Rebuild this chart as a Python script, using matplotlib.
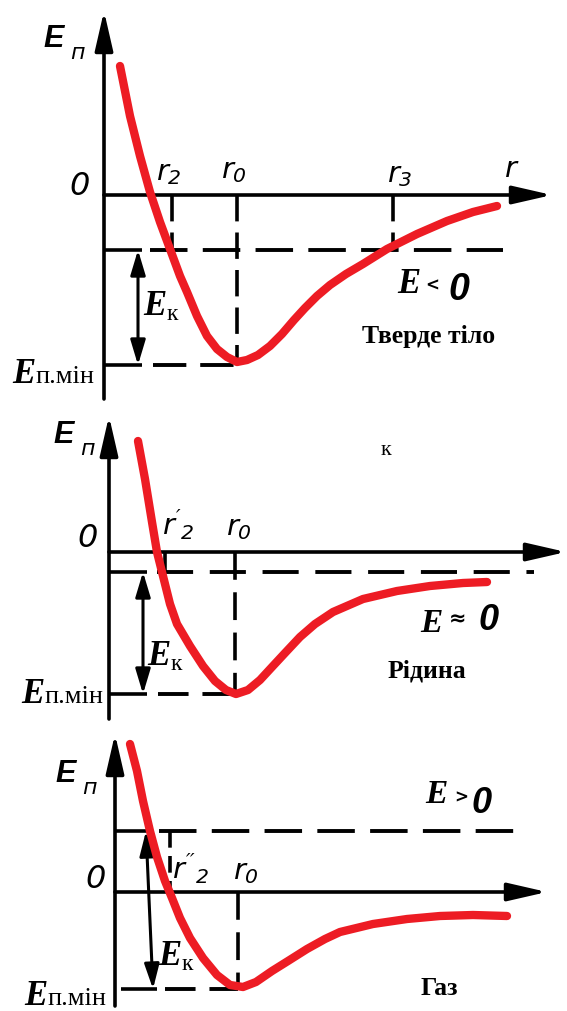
import matplotlib
matplotlib.use("Agg")
import matplotlib.pyplot as plt

plt.rcParams["lines.scale_dashes"] = False
plt.rcParams["mathtext.fontset"] = "custom"
plt.rcParams["mathtext.it"] = "DejaVu Sans:italic"
plt.rcParams["mathtext.rm"] = "DejaVu Sans:italic"

# ---- potential-energy curves (r measured from the E axis, E from the r axis) ----
solid_r = [16, 26, 36, 46, 56, 66, 76, 83, 93, 103, 113, 123, 133, 143, 154, 166,
           178, 190, 201, 213, 226, 242, 259, 283, 313, 343, 369, 393]
solid_E = [129, 79, 39, 3, -27, -54, -81, -97, -121, -141, -154, -162, -167, -165,
           -160, -151, -139, -125, -113, -101, -90, -79, -69, -54, -39, -26, -17, -11]
solid_E_total = -55
solid_E_min = -170
solid_r2, solid_r0, solid_r3 = 68, 133, 289

liquid_r = [29, 36, 43, 48, 53, 61, 68, 81, 94, 106, 117, 127, 139, 151, 163, 176,
            191, 206, 224, 254, 288, 321, 354, 378]
liquid_E = [111, 73, 30, 0, -20, -52, -72, -94, -114, -129, -138, -142, -138, -128,
            -115, -101, -85, -72, -60, -47, -39, -34, -31, -30]
liquid_E_total = -20
liquid_E_min = -142
liquid_r2, liquid_r0 = 56, 126

gas_r = [15, 22, 28, 35, 42, 50, 57, 65, 75, 88, 102, 115, 128, 141, 157, 173, 192,
         210, 225, 258, 292, 325, 358, 392]
gas_E = [148, 121, 91, 61, 35, 11, -6, -26, -46, -66, -83, -93, -95, -90, -79, -69,
         -57, -47, -40, -32, -27, -24, -23, -24]
gas_E_total = 61
gas_E_min = -97
gas_r2, gas_r0 = 55, 123

RED = "#ED1C24"
W, H = 567, 1012

fig = plt.figure(figsize=(W / 100, H / 100), dpi=100)
fig.patch.set_facecolor("white")

SANS_IT = dict(family="DejaVu Sans", style="italic")
E_SANS = dict(family="Liberation Sans", style="italic", weight="bold")
E_SERIF = dict(family="Liberation Serif", style="italic", weight="bold")
SERIF = dict(family="Liberation Serif")
SERIF_B = dict(family="Liberation Serif", weight="bold")


def make_axes(ox, oy, top, bottom):
    ax = fig.add_axes([0, 1 - bottom / H, 1, (bottom - top) / H])
    ax.set_xlim(-ox, W - ox)
    ax.set_ylim(oy - bottom, oy - top)
    ax.axis("off")
    return ax


def axis_arrow(ax, start, end):
    ax.annotate("", xy=end, xytext=start, annotation_clip=False,
                arrowprops=dict(arrowstyle="-|>,head_length=2.4,head_width=0.55",
                                lw=2.6, color="black", shrinkA=0, shrinkB=0,
                                mutation_scale=10))


def double_arrow(ax, top, bottom):
    ax.annotate("", xy=bottom, xytext=top, annotation_clip=False,
                arrowprops=dict(arrowstyle="<|-|>,head_length=1.5,head_width=0.45",
                                lw=2.2, color="black", shrinkA=0, shrinkB=0,
                                mutation_scale=10))


def hdash(ax, r0, r1, e, dashes=(27, 11)):
    ax.plot([r0, r1], [e, e], color="black", lw=2.8, dashes=dashes,
            dash_capstyle="butt", clip_on=False)


def vdash(ax, r, e0, e1, dashes=(19, 8)):
    ax.plot([r, r], [e0, e1], color="black", lw=2.6, dashes=dashes,
            dash_capstyle="butt", clip_on=False)


def solid(ax, rs, es, lw=2.6):
    ax.plot(rs, es, color="black", lw=lw, solid_capstyle="butt", clip_on=False)


def curve(ax, r, e):
    ax.plot(r, e, color=RED, lw=6, solid_capstyle="round", solid_joinstyle="round",
            zorder=5, clip_on=False)


def txt(ax, r, e, s, size, font, ha="center", va="baseline"):
    ax.text(r, e, s, fontsize=size, ha=ha, va=va, zorder=6, **font)


def r_label(ax, r, e, math):
    ax.text(r, e, math, fontsize=21, ha="left", va="baseline", zorder=6)


def energy_labels(ax, ep, ek, emin):
    # E_п near the vertical axis
    txt(ax, ep[0], ep[1], "E", 22, E_SANS)
    txt(ax, ep[0] + 23, ep[1] - 12, "п", 16, SANS_IT)
    # E_к next to the double arrow
    txt(ax, ek[0], ek[1], "E", 25, E_SERIF)
    txt(ax, ek[0] + 17, ek[1] - 5, "к", 17, SERIF)
    # E_п.мін at the bottom of the well
    txt(ax, emin[0], emin[1], "E", 25, E_SERIF)
    txt(ax, emin[0] + 11, emin[1], "п.мін", 19, SERIF, ha="left")


# ---------------- solid ----------------
ax1 = make_axes(104, 196, 0, 408)
axis_arrow(ax1, (0, -204), (0, 184))
axis_arrow(ax1, (0, 0), (448, 0))
arrow_r = 34
solid(ax1, [0, arrow_r + 4], [solid_E_total] * 2)
hdash(ax1, arrow_r + 12, 399, solid_E_total)
solid(ax1, [0, arrow_r + 4], [solid_E_min] * 2)
hdash(ax1, arrow_r + 15, solid_r0, solid_E_min, dashes=(24, 10))
vdash(ax1, solid_r2, 0, solid_E_total)
vdash(ax1, solid_r0, 0, solid_E_min)
vdash(ax1, solid_r3, 0, solid_E_total)
double_arrow(ax1, (arrow_r, solid_E_total), (arrow_r, solid_E_min))
curve(ax1, solid_r, solid_E)

txt(ax1, -24, 1, "0", 23, SANS_IT)
r_label(ax1, 52, 16, r"$\mathit{r_2}$")
r_label(ax1, 117, 18, r"$\mathit{r_0}$")
r_label(ax1, 283, 14, r"$\mathit{r_3}$")
txt(ax1, 407, 19, "r", 21, SANS_IT)
energy_labels(ax1, (-50, 149), (51, -119), (-80, -187))
txt(ax1, 305, -97, "E", 25, E_SERIF)
txt(ax1, 328, -90, "<", 12, dict(family="DejaVu Sans", weight="bold"), va="center")
txt(ax1, 355, -104, "0", 27, E_SANS)
txt(ax1, 325, -147, "Тверде тіло", 18.5, SERIF_B)

# ---------------- liquid ----------------
ax2 = make_axes(109, 553, 408, 728)
axis_arrow(ax2, (0, -167), (0, 136))
axis_arrow(ax2, (0, 0), (457, 0))
solid(ax2, [0, arrow_r + 4], [liquid_E_total] * 2)
hdash(ax2, arrow_r + 14, 425, liquid_E_total, dashes=(26, 12))
solid(ax2, [0, arrow_r + 4], [liquid_E_min] * 2)
hdash(ax2, arrow_r + 15, liquid_r0, liquid_E_min, dashes=(22, 10))
vdash(ax2, liquid_r2, 0, liquid_E_total, dashes=(30, 1))
vdash(ax2, liquid_r0, 0, liquid_E_min, dashes=(20, 9))
double_arrow(ax2, (arrow_r, liquid_E_total), (arrow_r, liquid_E_min))
curve(ax2, liquid_r, liquid_E)

txt(ax2, -21, 6, "0", 23, SANS_IT)
r_label(ax2, 53, 18, r"$\mathit{r'_2}$")
r_label(ax2, 117, 18, r"$\mathit{r_0}$")
txt(ax2, 277, 98, "к", 16, SERIF)
energy_labels(ax2, (-45, 110), (50, -112), (-76, -150))
txt(ax2, 322, -79, "E", 24, E_SERIF)
txt(ax2, 349, -66, "≈", 15, dict(family="DejaVu Sans", weight="bold"), va="center")
txt(ax2, 380, -77, "0", 26, E_SANS)
txt(ax2, 318, -125, "Рідина", 18.5, SERIF_B)

# ---------------- gas ----------------
ax3 = make_axes(115, 893, 728, 1012)
axis_arrow(ax3, (0, -114), (0, 158))
axis_arrow(ax3, (0, 0), (432, 0))
solid(ax3, [0, 36], [gas_E_total] * 2)
hdash(ax3, 44, 407, gas_E_total, dashes=(27, 11))
solid(ax3, [6, 42], [gas_E_min] * 2)
hdash(ax3, 50, gas_r0, gas_E_min, dashes=(22, 10))
vdash(ax3, gas_r2, gas_E_total, 0, dashes=(12, 6))
vdash(ax3, gas_r0, 0, gas_E_min, dashes=(20, 9))
double_arrow(ax3, (31, gas_E_total), (38, gas_E_min))
curve(ax3, gas_r, gas_E)

txt(ax3, -19, 5, "0", 23, SANS_IT)
r_label(ax3, 57, 14, r"$\mathit{r''_2}$")
r_label(ax3, 118, 14, r"$\mathit{r_0}$")
energy_labels(ax3, (-49, 111), (55, -72), (-79, -112))
txt(ax3, 321, 90, "E", 24, E_SERIF)
txt(ax3, 346, 95, ">", 12, dict(family="DejaVu Sans", weight="bold"), va="center")
txt(ax3, 367, 80, "0", 26, E_SANS)
txt(ax3, 324, -102, "Газ", 18.5, SERIF_B)

fig.savefig("out.png", dpi=100, facecolor="white")
